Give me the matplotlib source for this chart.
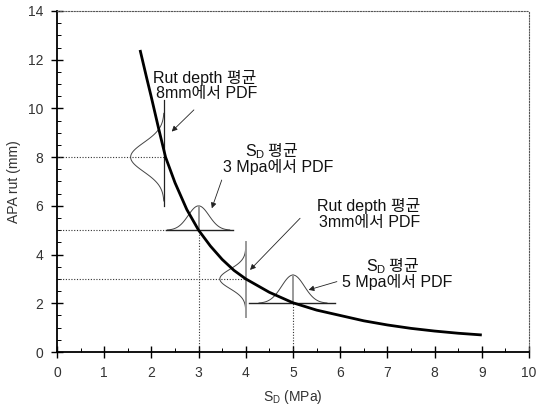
import numpy as np
import matplotlib
matplotlib.use("Agg")
import matplotlib.pyplot as plt
from matplotlib.ticker import MultipleLocator

plt.rcParams['mathtext.fontset'] = 'custom'
plt.rcParams['mathtext.rm'] = 'Liberation Sans'
plt.rcParams['font.family'] = ['Liberation Sans', 'Noto Sans CJK KR']

# curve
sd_x = [1.76, 1.9, 2.0, 2.15, 2.3, 2.5, 2.75, 3.0, 3.25, 3.5, 3.75, 4.0,
        4.5, 5.0, 5.5, 6.0, 6.5, 7.0, 7.5, 8.0, 8.5, 9.0]
rut_y = [12.4, 11.25, 10.45, 9.2, 8.0, 6.95, 5.85, 5.0, 4.35, 3.8, 3.35, 3.0,
         2.45, 2.02, 1.72, 1.5, 1.28, 1.11, 0.97, 0.86, 0.77, 0.70]

# PDFs: vertical ones (rut depth) and horizontal ones (S_D)
vpdf_x = [2.27, 4.0]      # baseline position
vpdf_mean = [8.0, 3.0]
vpdf_sd = [0.6, 0.4]
vpdf_amp = [0.71, 0.55]
vpdf_line = [(6.0, 10.35), (1.45, 4.5)]

hpdf_y = [5.0, 2.0]
hpdf_mean = [3.0, 5.0]
hpdf_sd = [0.22, 0.24]
hpdf_amp = [1.0, 1.16]
hpdf_base = [(2.3, 3.73), (4.07, 5.89)]

labels = [["Rut depth 평균", "8mm에서 PDF"],
          [r"$\mathrm{S_D}$ 평균", "3 Mpa에서 PDF"],
          ["Rut depth 평균", "3mm에서 PDF"],
          [r"$\mathrm{S_D}$ 평균", "5 Mpa에서 PDF"]]
# baseline positions of each text line
label_pos = [[(3.12, 11.06), (3.18, 10.42)],
             [(4.55, 8.05), (4.68, 7.39)],
             [(6.61, 5.80), (6.63, 5.12)],
             [(7.12, 3.33), (7.2, 2.67)]]
arrow_from = [(2.9, 9.94), (3.49, 7.06), (5.15, 5.49), (5.93, 2.89)]
arrow_to = [(2.43, 9.05), (3.28, 5.9), (4.09, 3.37), (5.33, 2.55)]

fig = plt.figure(figsize=(5.36, 4.08), dpi=100)
ax = fig.add_axes([57/536, 56/408, 472/536, 341/408])

dot = (0, (1, 1.5))
# guide lines
ax.plot([0, 2.27], [8, 8], color='#333', lw=0.8, ls=dot)
ax.plot([0, 2.3], [5, 5], color='#333', lw=0.8, ls=dot)
ax.plot([0, 4.0], [3, 3], color='#333', lw=0.8, ls=dot)
ax.plot([3, 3], [0, 5], color='#333', lw=0.8, ls=dot)
ax.plot([5, 5], [0, 2], color='#333', lw=0.8, ls=dot)

# vertical pdfs
for i in range(2):
    t = np.linspace(vpdf_mean[i] - 3*vpdf_sd[i], vpdf_mean[i] + 3*vpdf_sd[i], 120)
    w = vpdf_amp[i] * np.exp(-0.5*((t - vpdf_mean[i]) / vpdf_sd[i])**2)
    ax.plot(vpdf_x[i] - w, t, color='#444', lw=0.7)
    col = '#222' if i == 0 else '#999'
    ax.plot([vpdf_x[i], vpdf_x[i]], vpdf_line[i], color=col, lw=0.9 if i == 0 else 1.4)

# horizontal pdfs
for i in range(2):
    t = np.linspace(hpdf_mean[i] - 3*hpdf_sd[i], hpdf_mean[i] + 3*hpdf_sd[i], 120)
    h = hpdf_amp[i] * np.exp(-0.5*((t - hpdf_mean[i]) / hpdf_sd[i])**2)
    ax.plot(t, hpdf_y[i] + h, color='#444', lw=0.7)
    ax.plot(hpdf_base[i], [hpdf_y[i]]*2, color='#222', lw=1.0)
    ax.plot([hpdf_mean[i]]*2, [hpdf_y[i], hpdf_y[i] + hpdf_amp[i]], color='#999', lw=1.4)

# main curve
ax.plot(sd_x, rut_y, color='black', lw=2.0, solid_capstyle='butt', zorder=5)

# annotations
for i in range(4):
    for j in range(2):
        fam = 'Noto Sans CJK KR' if '$' in labels[i][j] else ['Liberation Sans', 'Noto Sans CJK KR']
        ax.text(label_pos[i][j][0], label_pos[i][j][1], labels[i][j], ha='center', va='baseline',
                fontsize=11.5, color='#111', family=fam)
    ax.annotate('', xy=arrow_to[i], xytext=arrow_from[i],
                arrowprops=dict(arrowstyle='-|>', color='#222', lw=0.6,
                                mutation_scale=8, shrinkA=0, shrinkB=0))

ax.set_xlim(0, 10)
ax.set_ylim(0, 14)
ax.xaxis.set_major_locator(MultipleLocator(1))
ax.xaxis.set_minor_locator(MultipleLocator(0.5))
ax.yaxis.set_major_locator(MultipleLocator(2))
ax.yaxis.set_minor_locator(MultipleLocator(0.5))
ax.tick_params(which='major', direction='inout', length=8, width=1, labelsize=10,
               labelcolor='#333', pad=6)
ax.tick_params(which='minor', direction='in', length=3, width=0.7)

for s in ['top', 'right']:
    ax.spines[s].set_linestyle(dot)
    ax.spines[s].set_linewidth(0.8)
    ax.spines[s].set_color('#555')
for s in ['left', 'bottom']:
    ax.spines[s].set_linewidth(1.3)

ax.set_xlabel(r"$\mathrm{S_D}$ (MPa)", fontsize=10, color='#333', labelpad=6)
ax.set_ylabel("APA rut (mm)", fontsize=10, color='#333', labelpad=5)

fig.savefig("out.png", dpi=100)
